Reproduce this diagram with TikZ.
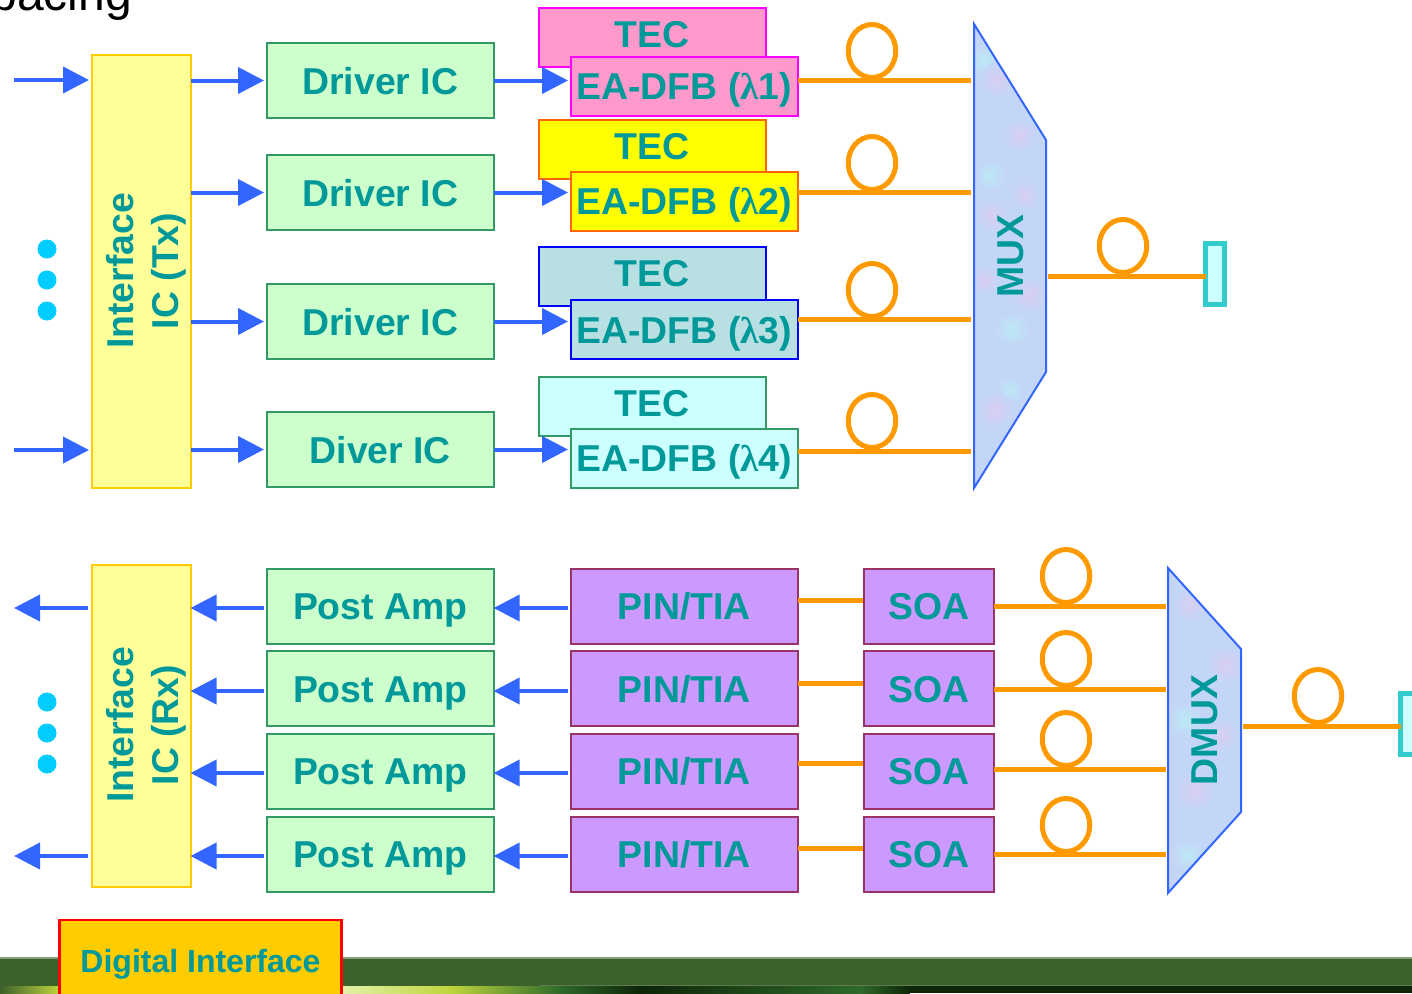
\documentclass[tikz,border=0pt]{standalone}
\usepackage{fontspec}
\setmainfont{Liberation Sans}
\newfontfamily\lamfont{Liberation Serif}
\newcommand{\lam}{{\lamfont λ}}
\usepackage{xcolor}
\usepackage{tikz}
\usetikzlibrary{arrows.meta,positioning,shapes.geometric}
\definecolor{tealtext}{HTML}{009999}
\definecolor{wire}{HTML}{3366FF}
\definecolor{fibre}{HTML}{FF9900}
\definecolor{ifyellow}{HTML}{FFFF99}
\definecolor{ifedge}{HTML}{FFCC00}
\definecolor{drvfill}{HTML}{CCFFCC}
\definecolor{drvedge}{HTML}{339966}
\definecolor{pinfill}{HTML}{CC99FF}
\definecolor{pinedge}{HTML}{993366}
\definecolor{pinkfill}{HTML}{FF99CC}
\definecolor{pinkedge}{HTML}{FF00FF}
\definecolor{yellfill}{HTML}{FFFF00}
\definecolor{yelledge}{HTML}{FF6600}
\definecolor{bluefill}{HTML}{B8DFE2}
\definecolor{blueedge}{HTML}{0000FF}
\definecolor{cyanfill}{HTML}{CCFFFF}
\definecolor{plugedge}{HTML}{33CCCC}
\definecolor{dotcyan}{HTML}{00CCFF}
\definecolor{redline}{HTML}{FF0000}
\definecolor{muxbase}{HTML}{C4D6F8}
\definecolor{muxlilac}{HTML}{D8CEF2}
\definecolor{muxaqua}{HTML}{BCE8F4}
\definecolor{muxedge}{HTML}{3366FF}
\definecolor{bandgreen}{HTML}{3D612A}
\definecolor{bandline}{HTML}{84A078}
\definecolor{bandlow}{HTML}{5D7A50}
\definecolor{banddark}{HTML}{0E2408}
\definecolor{bandlime}{HTML}{BFD63C}
\definecolor{bandpale}{HTML}{E4F0A8}
\definecolor{bandmoss}{HTML}{2E6A2A}
\begin{document}
\begin{tikzpicture}[
  x=1pt,y=-1pt,
  node distance=7.67pt,
  every node/.style={inner sep=0pt,outer sep=0pt},
  lbl/.style={font=\fontsize{37.4}{45}\selectfont\bfseries,text=tealtext,align=center},
  boxlbl/.style={lbl,text height=27pt,text depth=0pt},
  ifbox/.style={draw=ifedge,fill=ifyellow,line width=2pt,minimum width=98.5pt},
  drvbox/.style={boxlbl,draw=drvedge,fill=drvfill,line width=2pt,minimum width=226.6pt,minimum height=75pt},
  pinbox/.style={boxlbl,draw=pinedge,fill=pinfill,line width=2pt,minimum width=226.6pt,minimum height=75pt},
  soabox/.style={boxlbl,draw=pinedge,fill=pinfill,line width=2pt,minimum width=130pt,minimum height=75pt},
  tecbox/.style={lbl,line width=2pt,minimum width=226.6pt,minimum height=59pt,text height=27pt,text depth=7pt},
  eabox/.style={boxlbl,line width=2pt,minimum width=226.6pt,minimum height=59pt},
  fibreloop/.style={ellipse,draw=fibre,line width=5pt,minimum width=47.5pt,minimum height=53pt},
  plug/.style={draw=plugedge,fill=cyanfill,line width=5pt,minimum width=19pt,minimum height=61pt},
  dot/.style={circle,fill=dotcyan,minimum size=19pt},
  muxshape/.style={fill=muxbase},
  muxline/.style={draw=muxedge,line width=2pt,line join=miter},
  blotch/.style={inner color=#1,outer color=muxbase},
  arr/.style={-{Triangle[length=26pt,width=26pt]},line width=4pt,color=wire,shorten >=3pt},
  fib/.style={line width=5pt,color=fibre}
]
\clip (0,0) rectangle (1412,993);
% footer band
\fill[bandgreen] (0,958) rectangle (1412,986);
\fill[bandline] (0,957) rectangle (1412,959);
\fill[bandlow] (540,985) rectangle (1412,987);
\shade[left color=bandgreen,right color=bandlime] (0,986) rectangle (60,993);
\shade[left color=bandpale,right color=bandlime] (342,986) rectangle (450,993);
\shade[left color=bandlime,right color=bandmoss] (450,986) rectangle (560,993);
\shade[left color=bandmoss,right color=banddark] (560,986) rectangle (640,993);
\shade[left color=banddark,right color=bandmoss] (640,986) rectangle (860,993);
\shade[left color=bandmoss,right color=banddark] (860,986) rectangle (910,993);
\fill[banddark] (910,986) rectangle (1412,993);
\node[lbl,font=\fontsize{32}{40}\selectfont\bfseries,draw=redline,fill=ifedge,line width=2.5pt,
      minimum width=282pt,minimum height=90pt,text depth=12pt,text height=26pt] (digital) at (200.5,965) {Digital Interface};
% clipped heading
\node[font=\fontsize{48}{50}\selectfont,anchor=base west] (heading) at (-9.5,10) {pacing};
% transmitter
\node[ifbox,minimum height=433pt] (iftx) at (141.25,271) {};
\node[lbl,rotate=90] (iftxtext) at (146,271) {Interface\\IC (Tx)};
\node[dot] (txdot1) at (47,249) {};
\node[dot,below=12pt of txdot1] (txdot2) {};
\node[dot,below=12pt of txdot2] (txdot3) {};
\node[drvbox] (drv1) at (380.3,80.5) {Driver IC};
\node[drvbox,below=37pt of drv1] (drv2) {Driver IC};
\node[drvbox,below=54pt of drv2] (drv3) {Driver IC};
\node[drvbox,below=53pt of drv3] (drv4) {Diver IC};
\node[tecbox,draw=pinkedge,fill=pinkfill] (tec1) at (652.3,37.5) {TEC};
\node[tecbox,draw=yelledge,fill=yellfill] (tec2) at (652.3,149.5) {TEC};
\node[tecbox,draw=blueedge,fill=bluefill] (tec3) at (652.3,276) {TEC};
\node[tecbox,draw=drvedge,fill=cyanfill] (tec4) at (652.3,406) {TEC};
\coordinate (txin1) at (14,80);
\coordinate (txin4) at (14,450);
\draw[arr] (txin1) -- (txin1 -| iftx.west);
\draw[arr] (txin4) -- (txin4 -| iftx.west);
\draw[arr] (iftx.east |- drv1.west) -- (drv1.west);
\draw[arr] (iftx.east |- drv2.west) -- (drv2.west);
\draw[arr] (iftx.east |- drv3.west) -- (drv3.west);
\draw[arr] (iftx.east |- drv4.west) -- (drv4.west);
\node[eabox,draw=pinkedge,fill=pinkfill] (ea1) at (684.3,86) {EA-DFB (\lam1)};
\node[eabox,draw=yelledge,fill=yellfill] (ea2) at (684.3,201) {EA-DFB (\lam2)};
\node[eabox,draw=blueedge,fill=bluefill] (ea3) at (684.3,329.5) {EA-DFB (\lam3)};
\node[eabox,draw=drvedge,fill=cyanfill] (ea4) at (684.3,458) {EA-DFB (\lam4)};
\draw[arr] (drv1.east) -- (drv1.east -| ea1.west);
\draw[arr] (drv2.east) -- (drv2.east -| ea2.west);
\draw[arr] (drv3.east) -- (drv3.east -| ea3.west);
\draw[arr] (drv4.east) -- (drv4.east -| ea4.west);
% mux
\coordinate (muxa) at (974,24);
\coordinate (muxb) at (1046,140);
\coordinate (muxc) at (1046,372);
\coordinate (muxd) at (974,488);
\begin{scope}
\clip (muxa) -- (muxb) -- (muxc) -- (muxd) -- cycle;
\fill[muxshape] (970,20) rectangle (1050,492);
\shade[blotch=muxaqua] (985,60) circle (16);
\shade[blotch=muxlilac] (998,80) circle (18);
\shade[blotch=muxlilac] (1020,135) circle (16);
\shade[blotch=muxaqua] (990,175) circle (16);
\shade[blotch=muxlilac] (992,215) circle (16);
\shade[blotch=muxlilac] (1025,195) circle (15);
\shade[blotch=muxaqua] (1012,330) circle (18);
\shade[blotch=muxlilac] (1030,295) circle (18);
\shade[blotch=muxlilac] (985,280) circle (14);
\shade[blotch=muxaqua] (1010,390) circle (14);
\shade[blotch=muxlilac] (995,410) circle (18);
\end{scope}
\draw[muxline] (muxa) -- (muxb) -- (muxc) -- (muxd) -- cycle;
\node[lbl,rotate=90] (mux) at (1011,256) {MUX};
\node[fibreloop] (loop1) at (872,51) {};
\node[fibreloop] (loop2) at (872,163) {};
\node[fibreloop] (loop3) at (872,290) {};
\node[fibreloop] (loop4) at (872,421) {};
\coordinate (muxin1) at (971,80);
\coordinate (muxin2) at (971,192);
\coordinate (muxin3) at (971,319);
\coordinate (muxin4) at (971,451);
\draw[fib] (muxin1 -| ea1.east) -- (muxin1);
\draw[fib] (muxin2 -| ea2.east) -- (muxin2);
\draw[fib] (muxin3 -| ea3.east) -- (muxin3);
\draw[fib] (muxin4 -| ea4.east) -- (muxin4);
\node[fibreloop] (loopout) at (1123,246) {};
\node[plug] (plugtx) at (1215,274) {};
\coordinate (muxout) at (1048,276);
\draw[fib] (muxout) -- (muxout -| plugtx.west);
% receiver
\node[ifbox,minimum height=322pt] (ifrx) at (141.25,725.5) {};
\node[lbl,rotate=90] (ifrxtext) at (146,725) {Interface\\IC (Rx)};
\node[dot] (rxdot1) at (47,702) {};
\node[dot,below=12pt of rxdot1] (rxdot2) {};
\node[dot,below=12pt of rxdot2] (rxdot3) {};
\node[drvbox] (amp1) at (380.3,606) {Post Amp};
\node[drvbox,below=of amp1] (amp2) {Post Amp};
\node[drvbox,below=of amp2] (amp3) {Post Amp};
\node[drvbox,below=of amp3] (amp4) {Post Amp};
\node[pinbox] (pin1) at (684.3,606) {PIN/TIA};
\node[pinbox,below=of pin1] (pin2) {PIN/TIA};
\node[pinbox,below=of pin2] (pin3) {PIN/TIA};
\node[pinbox,below=of pin3] (pin4) {PIN/TIA};
\node[soabox] (soa1) at (929,606) {SOA};
\node[soabox,below=of soa1] (soa2) {SOA};
\node[soabox,below=of soa2] (soa3) {SOA};
\node[soabox,below=of soa3] (soa4) {SOA};
\coordinate (pinout1) at (568,608);
\coordinate (pinout2) at (568,691);
\coordinate (pinout3) at (568,773);
\coordinate (pinout4) at (568,856);
\draw[arr,shorten >=0pt] (pinout1) -- (pinout1 -| amp1.east);
\draw[arr,shorten >=0pt] (pinout2) -- (pinout2 -| amp2.east);
\draw[arr,shorten >=0pt] (pinout3) -- (pinout3 -| amp3.east);
\draw[arr,shorten >=0pt] (pinout4) -- (pinout4 -| amp4.east);
\coordinate (ampout1) at (264,608);
\coordinate (ampout2) at (264,691);
\coordinate (ampout3) at (264,773);
\coordinate (ampout4) at (264,856);
\draw[arr,shorten >=0pt] (ampout1) -- (ampout1 -| ifrx.east);
\draw[arr,shorten >=0pt] (ampout2) -- (ampout2 -| ifrx.east);
\draw[arr,shorten >=0pt] (ampout3) -- (ampout3 -| ifrx.east);
\draw[arr,shorten >=0pt] (ampout4) -- (ampout4 -| ifrx.east);
\coordinate (rxout1) at (14,608);
\coordinate (rxout4) at (14,856);
\draw[arr,shorten <=4pt,shorten >=0pt] (rxout1 -| ifrx.west) -- (rxout1);
\draw[arr,shorten <=4pt,shorten >=0pt] (rxout4 -| ifrx.west) -- (rxout4);
\coordinate (soain1) at (863,600);
\coordinate (soain2) at (863,683);
\coordinate (soain3) at (863,763);
\coordinate (soain4) at (863,848);
\draw[fib] (soain1 -| pin1.east) -- (soain1);
\draw[fib] (soain2 -| pin2.east) -- (soain2);
\draw[fib] (soain3 -| pin3.east) -- (soain3);
\draw[fib] (soain4 -| pin4.east) -- (soain4);
% dmux
\coordinate (dmuxa) at (1168,568);
\coordinate (dmuxb) at (1241,649);
\coordinate (dmuxc) at (1241,812);
\coordinate (dmuxd) at (1168,893);
\begin{scope}
\clip (dmuxa) -- (dmuxb) -- (dmuxc) -- (dmuxd) -- cycle;
\fill[muxshape] (1164,564) rectangle (1245,897);
\shade[blotch=muxlilac] (1190,605) circle (16);
\shade[blotch=muxlilac] (1225,665) circle (18);
\shade[blotch=muxaqua] (1185,720) circle (18);
\shade[blotch=muxlilac] (1222,735) circle (16);
\shade[blotch=muxlilac] (1195,790) circle (20);
\shade[blotch=muxaqua] (1188,855) circle (16);
\end{scope}
\draw[muxline] (dmuxa) -- (dmuxb) -- (dmuxc) -- (dmuxd) -- cycle;
\node[lbl,rotate=90] (dmux) at (1205,730) {DMUX};
\node[fibreloop] (rxloop1) at (1066,576) {};
\node[fibreloop] (rxloop2) at (1066,659) {};
\node[fibreloop] (rxloop3) at (1066,739) {};
\node[fibreloop] (rxloop4) at (1066,825) {};
\coordinate (dmuxin1) at (1166,606);
\coordinate (dmuxin2) at (1166,689);
\coordinate (dmuxin3) at (1166,769);
\coordinate (dmuxin4) at (1166,854);
\draw[fib] (dmuxin1 -| soa1.east) -- (dmuxin1);
\draw[fib] (dmuxin2 -| soa2.east) -- (dmuxin2);
\draw[fib] (dmuxin3 -| soa3.east) -- (dmuxin3);
\draw[fib] (dmuxin4 -| soa4.east) -- (dmuxin4);
\node[fibreloop] (rxloopout) at (1318,696) {};
\node[plug] (plugrx) at (1410,724) {};
\coordinate (dmuxout) at (1243,726);
\draw[fib] (dmuxout) -- (dmuxout -| plugrx.west);
\end{tikzpicture}
\end{document}
